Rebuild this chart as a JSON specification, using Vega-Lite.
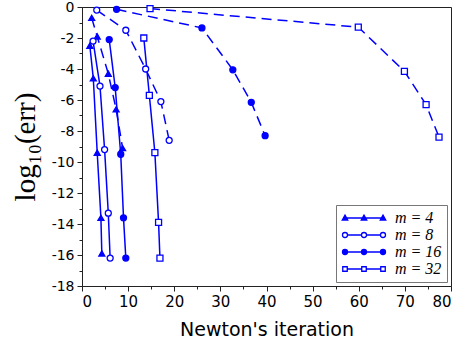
{
  "$schema": "https://vega.github.io/schema/vega-lite/v6.json",
  "width": 369,
  "height": 279,
  "autosize": {"type": "none"},
  "padding": {"left": 82, "top": 7, "right": 7, "bottom": 61},
  "background": "white",
  "config": {
    "view": {"stroke": "#222222", "strokeWidth": 1},
    "axis": {"grid": false, "domainColor": "#222222", "tickColor": "#222222", "labelColor": "#000000", "titleColor": "#000000", "labelFont": "DejaVu Sans", "labelFontSize": 14, "titleFontWeight": "normal"}
  },
  "datasets": {
    "d": [
      {"s": "4s", "m": "m = 4", "t": "solid", "x": 1.7, "y": -2.5},
      {"s": "4s", "m": "m = 4", "t": "solid", "x": 2.45, "y": -4.6},
      {"s": "4s", "m": "m = 4", "t": "solid", "x": 3.3, "y": -9.4},
      {"s": "4s", "m": "m = 4", "t": "solid", "x": 4.1, "y": -13.6},
      {"s": "4s", "m": "m = 4", "t": "solid", "x": 4.3, "y": -15.9},
      {"s": "4d", "m": "m = 4", "t": "dashed", "x": 2.1, "y": -0.7},
      {"s": "4d", "m": "m = 4", "t": "dashed", "x": 3.3, "y": -1.9},
      {"s": "4d", "m": "m = 4", "t": "dashed", "x": 5.7, "y": -4.3},
      {"s": "4d", "m": "m = 4", "t": "dashed", "x": 7.4, "y": -6.6},
      {"s": "4d", "m": "m = 4", "t": "dashed", "x": 8.8, "y": -9.1},
      {"s": "8s", "m": "m = 8", "t": "solid", "x": 2.4, "y": -2.2},
      {"s": "8s", "m": "m = 8", "t": "solid", "x": 3.9, "y": -5.1},
      {"s": "8s", "m": "m = 8", "t": "solid", "x": 4.9, "y": -9.2},
      {"s": "8s", "m": "m = 8", "t": "solid", "x": 5.7, "y": -13.3},
      {"s": "8s", "m": "m = 8", "t": "solid", "x": 6.1, "y": -16.2},
      {"s": "8d", "m": "m = 8", "t": "dashed", "x": 3.2, "y": -0.2},
      {"s": "8d", "m": "m = 8", "t": "dashed", "x": 9.5, "y": -1.5},
      {"s": "8d", "m": "m = 8", "t": "dashed", "x": 13.8, "y": -4.0},
      {"s": "8d", "m": "m = 8", "t": "dashed", "x": 17.1, "y": -6.1},
      {"s": "8d", "m": "m = 8", "t": "dashed", "x": 18.9, "y": -8.6},
      {"s": "16s", "m": "m = 16", "t": "solid", "x": 5.9, "y": -2.1},
      {"s": "16s", "m": "m = 16", "t": "solid", "x": 7.2, "y": -5.2},
      {"s": "16s", "m": "m = 16", "t": "solid", "x": 8.4, "y": -9.5},
      {"s": "16s", "m": "m = 16", "t": "solid", "x": 9.0, "y": -13.6},
      {"s": "16s", "m": "m = 16", "t": "solid", "x": 9.5, "y": -16.2},
      {"s": "16d", "m": "m = 16", "t": "dashed", "x": 7.5, "y": -0.15},
      {"s": "16d", "m": "m = 16", "t": "dashed", "x": 26.0, "y": -1.35},
      {"s": "16d", "m": "m = 16", "t": "dashed", "x": 32.7, "y": -4.05},
      {"s": "16d", "m": "m = 16", "t": "dashed", "x": 36.7, "y": -6.15},
      {"s": "16d", "m": "m = 16", "t": "dashed", "x": 39.7, "y": -8.3},
      {"s": "32s", "m": "m = 32", "t": "solid", "x": 13.4, "y": -2.0},
      {"s": "32s", "m": "m = 32", "t": "solid", "x": 14.6, "y": -5.7},
      {"s": "32s", "m": "m = 32", "t": "solid", "x": 15.8, "y": -9.4},
      {"s": "32s", "m": "m = 32", "t": "solid", "x": 16.6, "y": -13.9},
      {"s": "32s", "m": "m = 32", "t": "solid", "x": 16.9, "y": -16.2},
      {"s": "32d", "m": "m = 32", "t": "dashed", "x": 14.75, "y": -0.1},
      {"s": "32d", "m": "m = 32", "t": "dashed", "x": 59.9, "y": -1.3},
      {"s": "32d", "m": "m = 32", "t": "dashed", "x": 69.9, "y": -4.15},
      {"s": "32d", "m": "m = 32", "t": "dashed", "x": 74.6, "y": -6.3},
      {"s": "32d", "m": "m = 32", "t": "dashed", "x": 77.4, "y": -8.4}
    ]
  },
  "layer": [
    {
      "data": {"name": "d"},
      "mark": {"type": "line", "color": "#0000ff", "strokeWidth": 1.5},
      "encoding": {
        "x": {
          "field": "x", "type": "quantitative",
          "scale": {"domain": [0, 80], "nice": false},
          "axis": {"values": [0, 10, 20, 30, 40, 50, 60, 70, 80], "tickSize": 5, "labelPadding": 3, "labelFontSize": 15, "title": "Newton's iteration", "titleFont": "DejaVu Sans", "titleFontSize": 19, "titlePadding": 11, "orient": "bottom"}
        },
        "y": {
          "field": "y", "type": "quantitative",
          "scale": {"domain": [-18, 0], "nice": false},
          "axis": {"values": [-18, -16, -14, -12, -10, -8, -6, -4, -2, 0], "tickSize": 5, "labelPadding": 3, "labelFontSize": 14, "labelExpr": "replace(datum.label, '\u2212', '-')", "title": "log\u2081\u2080(err)", "titleFont": "Liberation Serif", "titleFontSize": 29, "titlePadding": 11, "orient": "left"}
        },
        "detail": {"field": "s"},
        "strokeDash": {"field": "t", "type": "nominal", "scale": {"domain": ["solid", "dashed"], "range": [[1, 0], [10, 6]]}, "legend": null}
      }
    },
    {
      "data": {"name": "d"},
      "mark": {"type": "point", "filled": true, "stroke": "#0000ff", "strokeWidth": 1.3, "size": 36, "opacity": 1},
      "encoding": {
        "x": {"field": "x", "type": "quantitative", "axis": null},
        "y": {"field": "y", "type": "quantitative", "axis": null},
        "shape": {"field": "m", "type": "nominal", "scale": {"domain": ["m = 4", "m = 8", "m = 16", "m = 32"], "range": ["triangle-up", "circle", "circle", "square"]}, "legend": null},
        "fill": {"field": "m", "type": "nominal", "scale": {"domain": ["m = 4", "m = 8", "m = 16", "m = 32"], "range": ["#0000ff", "#ffffff", "#0000ff", "#ffffff"]}, "legend": null}
      }
    },
    {
      "data": {"name": "d"},
      "transform": [{"filter": "datum.x > 1000"}],
      "mark": {"type": "point", "filled": true, "stroke": "#0000ff", "strokeWidth": 1.3, "opacity": 1},
      "encoding": {
        "x": {"field": "x", "type": "quantitative", "axis": {"values": [5, 15, 25, 35, 45, 55, 65, 75], "labels": false, "domain": false, "tickSize": 3, "title": null, "orient": "bottom"}},
        "y": {"field": "y", "type": "quantitative", "axis": {"values": [-17, -15, -13, -11, -9, -7, -5, -3, -1], "labels": false, "domain": false, "tickSize": 3, "title": null, "orient": "left"}},
        "shape": {
          "field": "m", "type": "nominal",
          "scale": {"domain": ["m = 4", "m = 8", "m = 16", "m = 32"], "range": [
            "M-3.8,-0.6L-3.25,0.4L-4.35,0.4ZM0,-0.6L0.55,0.4L-0.55,0.4ZM3.8,-0.6L4.35,0.4L3.25,0.4ZM-3.8,0H3.8",
            "M-3.3,0A0.5,0.5,0,1,1,-4.3,0A0.5,0.5,0,1,1,-3.3,0ZM0.5,0A0.5,0.5,0,1,1,-0.5,0A0.5,0.5,0,1,1,0.5,0ZM4.3,0A0.5,0.5,0,1,1,3.3,0A0.5,0.5,0,1,1,4.3,0ZM-3.3,0H-0.5M0.5,0H3.3",
            "M-3.3,0A0.5,0.5,0,1,1,-4.3,0A0.5,0.5,0,1,1,-3.3,0ZM0.5,0A0.5,0.5,0,1,1,-0.5,0A0.5,0.5,0,1,1,0.5,0ZM4.3,0A0.5,0.5,0,1,1,3.3,0A0.5,0.5,0,1,1,4.3,0ZM-3.3,0H-0.5M0.5,0H3.3",
            "M-4.25,-0.45H-3.35V0.45H-4.25ZM-0.45,-0.45H0.45V0.45H-0.45ZM3.35,-0.45H4.25V0.45H3.35ZM-3.35,0H-0.45M0.45,0H3.35"
          ]},
          "legend": {"orient": "bottom-right", "offset": 4, "title": null, "symbolSize": 100, "symbolOffset": 15, "labelOffset": 23, "labelFont": "Liberation Serif", "labelFontSize": 16, "labelFontStyle": "italic", "labelColor": "#000000", "strokeColor": "#777777", "fillColor": "#ffffff", "padding": 5, "rowPadding": 1, "symbolOpacity": 1, "symbolStrokeColor": "#0000ff", "symbolStrokeWidth": 1.3,
            "encode": {"symbols": {"update": {"stroke": {"value": "#0000ff"}, "strokeWidth": {"value": 1.3}, "opacity": {"value": 1}}}}}
        },
        "fill": {
          "field": "m", "type": "nominal",
          "scale": {"domain": ["m = 4", "m = 8", "m = 16", "m = 32"], "range": ["#0000ff", "#ffffff", "#0000ff", "#ffffff"]},
          "legend": {"orient": "bottom-right", "offset": 4, "title": null, "symbolSize": 100, "symbolOffset": 15, "labelOffset": 23, "labelFont": "Liberation Serif", "labelFontSize": 16, "labelFontStyle": "italic", "labelColor": "#000000", "strokeColor": "#777777", "fillColor": "#ffffff", "padding": 5, "rowPadding": 1, "symbolOpacity": 1, "symbolStrokeColor": "#0000ff", "symbolStrokeWidth": 1.3,
            "encode": {"symbols": {"update": {"stroke": {"value": "#0000ff"}, "strokeWidth": {"value": 1.3}, "opacity": {"value": 1}}}}}
        }
      }
    }
  ],
  "resolve": {"scale": {"shape": "independent", "fill": "independent"}, "axis": {"x": "independent", "y": "independent"}}
}
